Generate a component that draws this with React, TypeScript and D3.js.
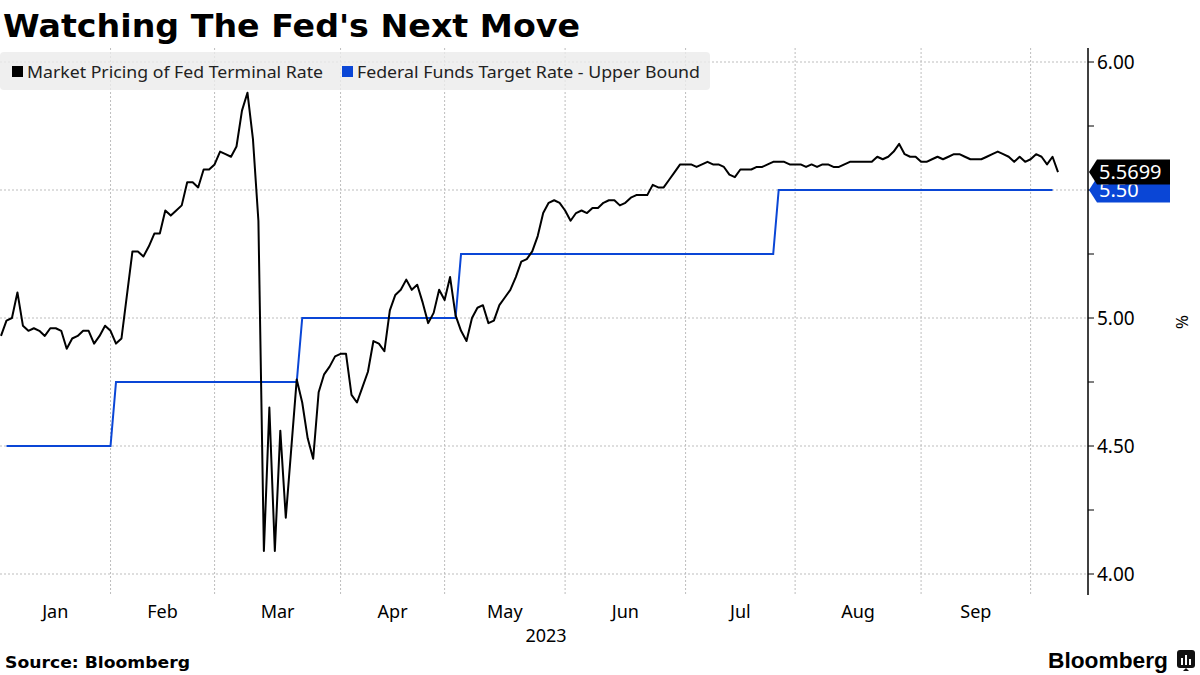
import * as d3 from 'd3'

// trading calendar used by the chart (weekdays, minus exchange holidays)
const firstDay = '2023-01-03'
const lastDay = '2023-10-09'
const holidays = ['2023-01-16', '2023-02-20', '2023-04-07', '2023-05-29', '2023-07-04', '2023-09-04']

// Market Pricing of Fed Terminal Rate, one value per trading day
const terminalRate = [
  4.93, 4.99, 5.0, 5.1, 4.97, 4.95, 4.96, 4.95, 4.93, 4.96, 4.96, 4.95,
  4.88, 4.92, 4.93, 4.95, 4.95, 4.9, 4.93, 4.97, 4.95, 4.9, 4.92, 5.09, 5.26,
  5.26, 5.24, 5.28, 5.33, 5.33, 5.42, 5.4, 5.42, 5.44, 5.53, 5.53, 5.51, 5.58, 5.58, 5.6, 5.65, 5.64, 5.63, 5.67, 5.81, 5.88,
  5.7, 5.38, 4.09, 4.65, 4.09, 4.56, 4.22, 4.49, 4.76,
  4.67, 4.53, 4.45, 4.71, 4.78, 4.81, 4.85, 4.86, 4.86, 4.7, 4.67, 4.73, 4.79, 4.91, 4.9,
  4.87, 5.03, 5.09, 5.11, 5.15, 5.11, 5.13, 5.06, 4.98, 5.02, 5.11, 5.07, 5.16, 5.01,
  4.95, 4.91, 5.0, 5.04, 5.05, 4.98, 4.99, 5.05, 5.08, 5.11, 5.16, 5.22, 5.23, 5.26, 5.32, 5.41,
  5.45, 5.46, 5.45, 5.42, 5.38, 5.41, 5.42, 5.41, 5.43, 5.43, 5.45, 5.46, 5.46, 5.44, 5.45, 5.47, 5.48, 5.48, 5.48, 5.52,
  5.51, 5.51, 5.54, 5.57, 5.6, 5.6, 5.6, 5.59, 5.6, 5.61, 5.6, 5.6, 5.59, 5.56, 5.55, 5.58, 5.58, 5.58, 5.59, 5.59,
  5.6, 5.61, 5.61, 5.61, 5.6, 5.6, 5.6, 5.59, 5.6, 5.59, 5.6, 5.6, 5.59, 5.59, 5.6, 5.61, 5.61, 5.61, 5.61, 5.61,
  5.63, 5.62, 5.63, 5.65, 5.68, 5.64, 5.63, 5.63, 5.61, 5.61, 5.62, 5.63, 5.62, 5.63, 5.64, 5.64, 5.63, 5.62, 5.62, 5.62,
  5.63, 5.64, 5.65, 5.64, 5.63, 5.61, 5.63, 5.61, 5.62, 5.64, 5.63, 5.6, 5.63, 5.5699,
]

// Federal Funds Target Rate - Upper Bound, at the days it changes
const fedDates = ['2023-01-04', '2023-02-01', '2023-02-02', '2023-03-22', '2023-03-23', '2023-05-03', '2023-05-04', '2023-07-26', '2023-07-27', '2023-10-06']
const fedUpper = [4.5, 4.5, 4.75, 4.75, 5.0, 5.0, 5.25, 5.25, 5.5, 5.5]

const monthLabels = ['Jan', 'Feb', 'Mar', 'Apr', 'May', 'Jun', 'Jul', 'Aug', 'Sep']
const yLabels = [4.0, 4.5, 5.0, 6.0]
const yGrid = [4.0, 4.5, 5.0, 5.5, 6.0]
const yMinor = [4.25, 4.75, 5.25, 5.75]

const BLUE = '#0a46d6'
const GRID = '#bdbdbd'
const SANS = '"Noto Sans", "DejaVu Sans", sans-serif'

function buildDays(): string[] {
  const fmt = d3.utcFormat('%Y-%m-%d')
  const out: string[] = []
  let d = new Date(firstDay + 'T00:00:00Z')
  while (fmt(d) <= lastDay) {
    const s = fmt(d)
    const wd = d.getUTCDay()
    if (wd !== 0 && wd !== 6 && !holidays.includes(s)) out.push(s)
    d = d3.utcDay.offset(d, 1)
  }
  return out
}

export default function App() {
  const W = 1200
  const H = 675
  const axisX = 1088
  const top = 48
  const bottom = 595

  const days = buildDays()
  const x = d3.scaleLinear().domain([0, days.length - 1]).range([1, 1058])
  const y = d3.scaleLinear().domain([4, 6]).range([574, 62])

  // month boundaries = first trading day of Feb..Oct
  const bounds: number[] = [0]
  for (let m = 2; m <= 10; m++) {
    const key = '2023-' + String(m).padStart(2, '0')
    const idx = days.findIndex(d => d.startsWith(key))
    bounds.push(x(idx))
  }

  const blackLine = d3.line<number>().x((_, i) => x(i)).y(d => y(d))(terminalRate) || ''
  const fedPts = fedDates.map((d, i) => [x(days.indexOf(d)), y(fedUpper[i])] as [number, number])
  const blueLine = d3.line()(fedPts) || ''

  const last = terminalRate[terminalRate.length - 1]
  const lastFed = fedUpper[fedUpper.length - 1]
  const tag = (v: number) => {
    const c = y(v)
    return `M${axisX + 1},${c} L${axisX + 9},${c - 12.5} L1170,${c - 12.5} L1170,${c + 12.5} L${axisX + 9},${c + 12.5} Z`
  }

  return (
    <svg width={W} height={H} style={{ position: 'absolute', left: 0, top: 0, background: '#fff' }}>
      <rect width={W} height={H} fill="#fff" />

      {/* grid */}
      {yGrid.map(v => (
        <line key={'h' + v} x1={0} x2={axisX} y1={y(v)} y2={y(v)} stroke={GRID} strokeWidth={1} strokeDasharray="2,2" />
      ))}
      {bounds.slice(1).map((bx, i) => (
        <line key={'v' + i} x1={bx} x2={bx} y1={top} y2={bottom} stroke={GRID} strokeWidth={1} strokeDasharray="2,2" />
      ))}

      {/* legend */}
      <rect x={0} y={52} width={710} height={38} rx={4} fill="#ebebeb" opacity={0.8} />
      <rect x={12} y={66} width={11} height={11} fill="#000" />
      <text x={27} y={78} fontFamily={SANS} fontSize={16} fill="#222" textLength={296} lengthAdjust="spacingAndGlyphs">
        Market Pricing of Fed Terminal Rate
      </text>
      <rect x={342} y={66} width={11} height={11} fill={BLUE} />
      <text x={357} y={78} fontFamily={SANS} fontSize={16} fill="#222" textLength={343} lengthAdjust="spacingAndGlyphs">
        Federal Funds Target Rate - Upper Bound
      </text>

      {/* series */}
      <path d={blueLine} fill="none" stroke={BLUE} strokeWidth={2} />
      <path d={blackLine} fill="none" stroke="#000" strokeWidth={2} strokeLinejoin="round" />

      {/* right axis */}
      <line x1={axisX} x2={axisX} y1={top} y2={bottom} stroke="#000" strokeWidth={1.5} />
      {[...yGrid, ...yMinor].map(v => (
        <line key={'t' + v} x1={axisX} x2={axisX + 6} y1={y(v)} y2={y(v)} stroke="#000" strokeWidth={1} />
      ))}
      {yLabels.map(v => (
        <text key={'l' + v} x={axisX + 9} y={y(v) + 7} fontFamily={SANS} fontSize={19} fill="#000">
          {d3.format('.2f')(v)}
        </text>
      ))}
      <text transform={`translate(1176,${y(5) + 4}) rotate(90)`} textAnchor="middle" fontFamily={SANS} fontSize={17} fill="#000">%</text>

      {/* last value tags */}
      <path d={tag(lastFed)} fill={BLUE} />
      <text x={axisX + 11} y={y(lastFed) + 7} fontFamily={SANS} fontSize={20} fill="#fff">{d3.format('.2f')(lastFed)}</text>
      <path d={tag(last)} fill="#000" />
      <text x={axisX + 11} y={y(last) + 7} fontFamily={SANS} fontSize={20} fill="#fff">{String(last)}</text>

      {/* x axis labels */}
      {monthLabels.map((m, i) => (
        <text key={m} x={(bounds[i] + bounds[i + 1]) / 2} y={618} textAnchor="middle" fontFamily={SANS} fontSize={18} fill="#000">
          {m}
        </text>
      ))}
      <text x={546} y={642} textAnchor="middle" fontFamily={SANS} fontSize={18} fill="#000">2023</text>

      {/* title and footer */}
      <text x={3} y={37} fontFamily='"DejaVu Sans", sans-serif' fontWeight="bold" fontSize={32} fill="#000" textLength={577} lengthAdjust="spacingAndGlyphs">
        Watching The Fed's Next Move
      </text>
      <text x={5} y={668} fontFamily='"DejaVu Sans", sans-serif' fontWeight="bold" fontSize={15} fill="#000" textLength={185} lengthAdjust="spacingAndGlyphs">
        Source: Bloomberg
      </text>
      <text x={1048} y={668} fontFamily='"Liberation Sans", Arial, sans-serif' fontWeight="bold" fontSize={22} fill="#000" textLength={120} lengthAdjust="spacingAndGlyphs">
        Bloomberg
      </text>
      <rect x={1177} y={650} width={18} height={18} rx={3} fill="#111" />
      <path d="M1183,671 L1186,668 L1189,671 Z" fill="#111" />
      <rect x={1181} y={658} width={2} height={7} fill="#fff" />
      <rect x={1185} y={655} width={2} height={10} fill="#fff" />
      <rect x={1189} y={659} width={2} height={6} fill="#fff" />
    </svg>
  )
}
